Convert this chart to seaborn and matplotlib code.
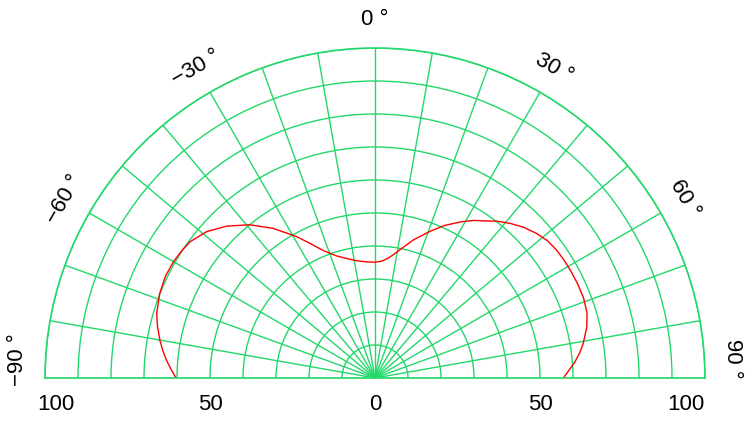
import numpy as np
import matplotlib
matplotlib.use("Agg")
import matplotlib.pyplot as plt
import seaborn as sns
import pandas as pd

# ---- data ----
angles_deg = [-90, -87.5, -85, -82.5, -80, -76.5, -73.5, -68.5, -64, -60, -56.5, -53.6,
              -49, -44.4, -39.3, -34.2, -29, -25.5, -22, -17.5, -13.3, -9, -6, -3, 0,
              3, 6, 8.5, 11, 15.5, 20.6, 24.5, 28.8, 32, 35.4, 38.2, 41.1, 44.5, 48.2,
              51.5, 54.8, 58, 61, 65, 69, 73, 76.5, 80.5, 83, 85.5, 88, 90]
radius = [60.3, 61.9, 63.5, 64.9, 66.2, 67.8, 69.0, 70.1, 70.6, 70.5, 70.1, 69.6,
          67.6, 64.4, 60.0, 54.8, 49.0, 45.0, 41.6, 38.8, 37.2, 36.0, 35.5, 35.2, 35.1,
          35.4, 36.4, 37.8, 39.6, 43.4, 47.5, 50.8, 54.0, 56.3, 58.4, 60.4, 62.2, 64.1, 65.7,
          66.8, 67.3, 67.5, 67.6, 67.7, 67.7, 67.2, 66.0, 64.0, 62.5, 60.7, 58.6, 57.1]
angle_ticks = [-90, -60, -30, 0, 30, 60, 90]
angle_labels = ["\u221290 \u00b0", "\u221260 \u00b0", "\u221230 \u00b0", "0 \u00b0", "30 \u00b0", "60 \u00b0", "90 \u00b0"]
radial_ticks = [-100, -50, 0, 50, 100]
radial_labels = ["100", "50", "0", "50", "100"]

sns.set_style("white")
plt.rcParams['font.family'] = ['Liberation Sans', 'DejaVu Sans']
plt.rcParams['text.color'] = 'black'

GREEN = "#22d86a"
fig = plt.figure(figsize=(7.49, 4.26), dpi=100)
ax = fig.add_subplot(projection="polar")
ax.set_theta_zero_location("N")
ax.set_theta_direction(-1)
ax.set_thetamin(-90)
ax.set_thetamax(90)
ax.set_rlim(0, 100)
ax.set_thetagrids(np.arange(-90, 91, 10), labels=[])
ax.set_rgrids(np.arange(10, 101, 10), labels=[])
ax.grid(True, color=GREEN, lw=1.0)
for sp in ax.spines.values():
    sp.set_color(GREEN)
    sp.set_linewidth(1.2)

df = pd.DataFrame({"theta": np.deg2rad(angles_deg), "r": radius})
sns.lineplot(data=df, x="theta", y="r", sort=False, color="red", lw=1.0, ax=ax,
             estimator=None)
ax.set_xlabel("")
ax.set_ylabel("")

ax.set_position([45 / 749, -117 / 426, 660 / 749, 660 / 426])

# angle labels
for a, lab in zip(angle_ticks, angle_labels):
    pos_a = a
    r = 108.5
    if abs(a) == 90:
        pos_a = np.sign(a) * 87
    ax.text(np.deg2rad(pos_a), r, lab, rotation=-a, ha="center", va="center",
            fontsize=16, rotation_mode="anchor", clip_on=False, color="black")

# radial labels beneath the baseline
for v, lab in zip(radial_ticks, radial_labels):
    rr = abs(v)
    if v == -100:
        rr = 96.7
    elif v == 100:
        rr = 94.2
    th = np.deg2rad(90 if v > 0 else -90)
    ax.annotate(lab, xy=(th, rr), xytext=(0, -19), textcoords="offset points",
                ha="center", va="center", fontsize=16, annotation_clip=False,
                color="black")

fig.savefig("out.png", dpi=100)
